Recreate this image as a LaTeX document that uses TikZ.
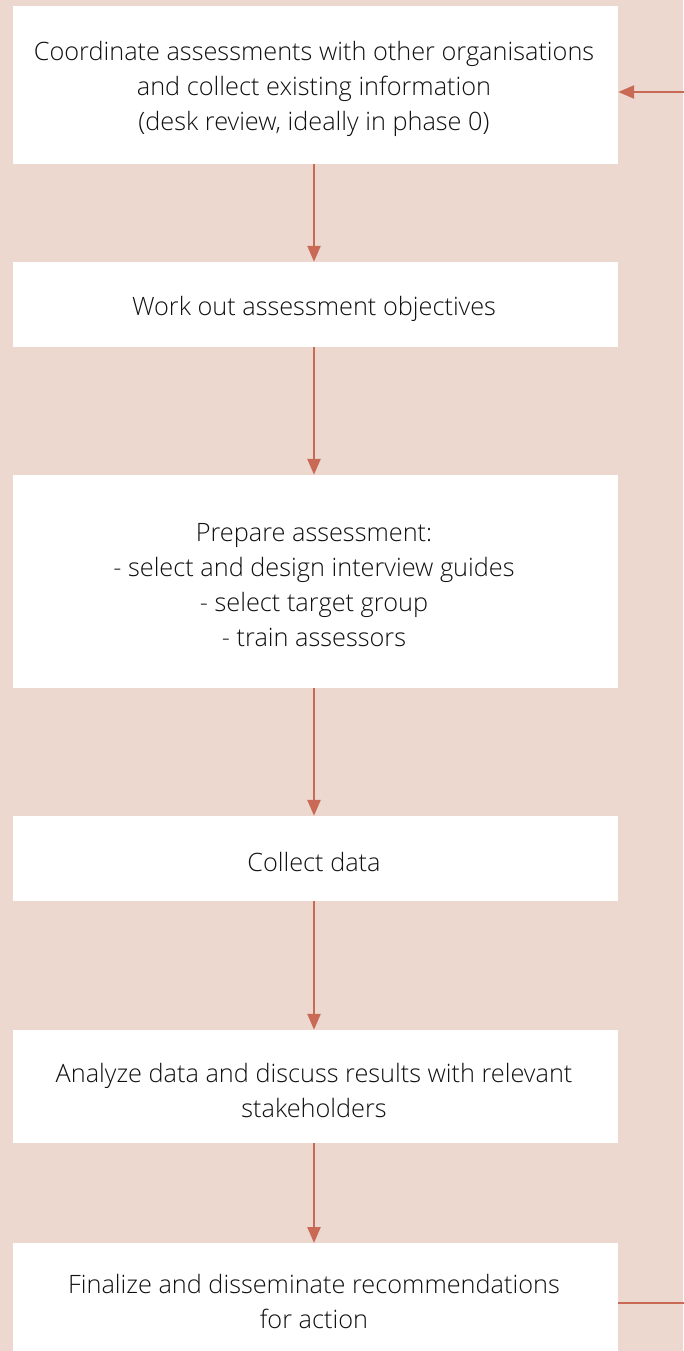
\documentclass[tikz,border=0pt]{standalone}
\usepackage{fontspec}
\setmainfont{Open Sans}[UprightFont={* Light},BoldFont={*}]
\usetikzlibrary{arrows.meta,positioning}
\definecolor{bg}{HTML}{EDD8CF}
\definecolor{arr}{HTML}{C96A57}
\definecolor{txt}{HTML}{111111}
\tikzset{
  stepbox/.style={fill=white,draw=none,minimum width=605pt,inner sep=0pt},
  label/.style={text=txt,align=center,font=\fontsize{25.3}{35}\selectfont,inner sep=0pt,xshift=-1.5pt,yshift=-4pt},
  flow/.style={draw=arr,line width=2.6pt,-{Triangle[width=13pt,length=16pt]}},
  fb/.style={draw=arr,line width=2.6pt}
}
\begin{document}
\begin{tikzpicture}[x=1pt,y=-1pt]
\fill[bg] (0,0) rectangle (683,1351);
\useasboundingbox (0,0) rectangle (683,1351);
\node[stepbox,minimum height=158pt] (b1) at (315.5,85) {};
\node[label] (t1) at (b1.center) {Coordinate assessments with other organisations\\and collect existing information\\(desk review, ideally in phase 0)};
\node[stepbox,minimum height=85pt] (b2) at (315.5,304.5) {};
\node[label] (t2) at (b2.center) {Work out assessment objectives};
\node[stepbox,minimum height=213pt] (b3) at (315.5,581.5) {};
\node[label] (t3) at (b3.center) {Prepare assessment:\\- select and design interview guides\\- select target group\\- train assessors};
\node[stepbox,minimum height=85pt] (b4) at (315.5,858.5) {};
\node[label] (t4) at (b4.center) {Collect data};
\node[stepbox,minimum height=113pt] (b5) at (315.5,1086.5) {};
\node[label] (t5) at (b5.center) {Analyze data and discuss results with relevant\\stakeholders};
\node[stepbox,minimum height=116pt,anchor=north] (b6) at (315.5,1243) {};
\coordinate (c6) at (315.5,1297);
\node[label] (t6) at (c6) {Finalize and disseminate recommendations\\for action};
\coordinate (a1) at (314,0);
\draw[flow] (b1.south -| a1) -- (b2.north -| a1);
\draw[flow] (b2.south -| a1) -- (b3.north -| a1);
\draw[flow] (b3.south -| a1) -- (b4.north -| a1);
\draw[flow] (b4.south -| a1) -- (b5.north -| a1);
\draw[flow] (b5.south -| a1) -- (b6.north -| a1);
\coordinate (r1) at (700,1303);
\coordinate (r2) at (700,92);
\draw[fb] (b6.east |- r1) -- (r1) -- (r2);
\draw[flow] (r2) -- (b1.east |- r2);
\end{tikzpicture}
\end{document}
